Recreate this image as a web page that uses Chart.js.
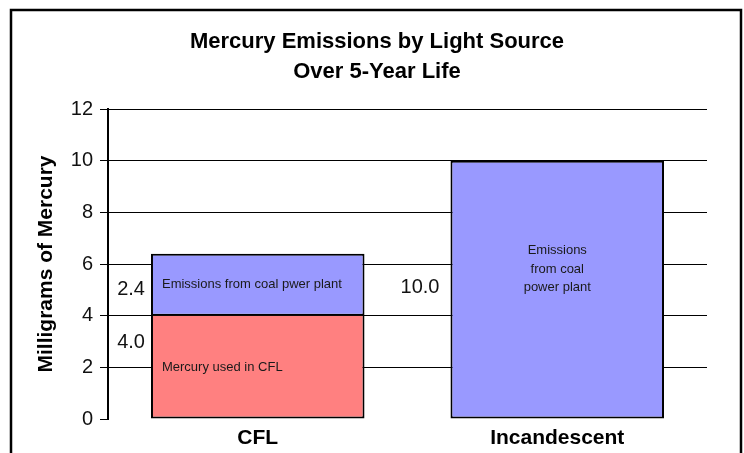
<!DOCTYPE html>
<html lang="en">
<head>
  <meta charset="UTF-8">
  <title>Mercury Emissions by Light Source</title>
  <script src="https://cdn.jsdelivr.net/npm/chart.js"></script>
  <style>
    body { margin: 0; background: #fff; }
  </style>
</head>
<body>
  <canvas id="mercuryChart" width="744" height="453"></canvas>

  <script>
    // data
    const categories = ['CFL', 'Incandescent'];
    const mercuryInBulb = [4.0, null];
    const coalPlant = [2.4, 10.0];
    const seriesNames = ['Mercury used in CFL', 'Emissions from coal power plant'];
    const yTicks = [0, 2, 4, 6, 8, 10, 12];
    const titleLines = ['Mercury Emissions by Light Source', 'Over 5-Year Life'];
    const yTitle = 'Milligrams of Mercury';
    // text written inside each segment, per dataset then per category
    const barNotes = [
      [['Mercury used in CFL'], null],
      [['Emissions from coal pwer plant'], ['Emissions', 'from coal', 'power plant']]
    ];

    const FONT = '"Liberation Sans", Arial, sans-serif';

    // frame + two line title
    const frame = {
      id: 'frame',
      beforeDraw(chart) {
        const c = chart.ctx;
        c.save();
        c.fillStyle = '#fff';
        c.fillRect(0, 0, chart.width, chart.height);
        c.strokeStyle = '#000';
        c.lineWidth = 2.5;
        c.strokeRect(11, 10, 730, chart.height + 10);
        c.fillStyle = '#000';
        c.font = 'bold 22px ' + FONT;
        c.textAlign = 'center';
        c.textBaseline = 'middle';
        titleLines.forEach((t, i) => c.fillText(t, 377, 42 + i * 30));
        c.restore();
      }
    };

    // value labels left of the bars and notes inside them
    const barText = {
      id: 'barText',
      afterDatasetsDraw(chart) {
        const c = chart.ctx;
        c.save();
        chart.data.datasets.forEach((ds, i) => {
          const meta = chart.getDatasetMeta(i);
          ds.data.forEach((v, j) => {
            if (v === null) return;
            const bar = meta.data[j];
            const top = bar.y, bottom = bar.base;
            const left = bar.x - bar.width / 2;
            const h = bottom - top;

            // value label
            const frac = (i === 0 && j === 0) ? 0.26 : (j === 0 ? 0.57 : 0.49);
            c.fillStyle = '#111';
            c.font = '20px ' + FONT;
            c.textAlign = 'right';
            c.textBaseline = 'middle';
            c.fillText(v.toFixed(1), left - (j === 0 ? 6 : 11), top + h * frac);

            // note inside the bar
            const note = barNotes[i][j];
            if (!note) return;
            c.fillStyle = '#1a1a1a';
            c.font = '13px ' + FONT;
            if (note.length === 1) {
              c.textAlign = 'left';
              c.fillText(note[0], left + 11, top + h / 2);
            } else {
              c.textAlign = 'center';
              const mid = top + h * 0.42;
              note.forEach((line, k) => {
                c.fillText(line, bar.x, mid + (k - (note.length - 1) / 2) * 18.5);
              });
            }
          });
        });
        c.restore();
      }
    };

    new Chart(document.getElementById('mercuryChart'), {
      type: 'bar',
      data: {
        labels: categories,
        datasets: [
          {
            label: seriesNames[0],
            data: mercuryInBulb,
            backgroundColor: '#FF8080',
            borderColor: '#000',
            borderWidth: { top: 0, left: 2, right: 2, bottom: 2 },
            borderSkipped: false
          },
          {
            label: seriesNames[1],
            data: coalPlant,
            backgroundColor: '#9999FF',
            borderColor: '#000',
            borderWidth: 2,
            borderSkipped: false
          }
        ]
      },
      options: {
        responsive: false,
        animation: false,
        events: [],
        layout: { padding: { left: 12, right: 37, top: 109, bottom: 0 } },
        datasets: { bar: { categoryPercentage: 1, barPercentage: 0.713 } },
        plugins: {
          legend: { display: false },
          title: { display: false },
          tooltip: { enabled: false }
        },
        scales: {
          x: {
            stacked: true,
            grid: { display: false, drawTicks: false },
            border: { display: false },
            ticks: {
              color: '#000',
              padding: 7,
              font: { family: FONT, size: 21, weight: 'bold' }
            },
            afterFit: s => { s.height = 34; }
          },
          y: {
            stacked: true,
            min: 0,
            max: 12,
            afterBuildTicks: s => { s.ticks = yTicks.map(v => ({ value: v })); },
            grid: {
              color: ctx => ctx.tick && ctx.tick.value === 0 ? 'rgba(0,0,0,0)' : '#000',
              tickColor: '#000',
              lineWidth: 1,
              tickLength: 8
            },
            border: { display: true, color: '#000', width: 2 },
            ticks: {
              color: '#111',
              padding: 7,
              font: { family: FONT, size: 20 }
            },
            title: {
              display: true,
              text: yTitle,
              color: '#000',
              padding: { top: 22 },
              font: { family: FONT, size: 21, weight: 'bold' }
            },
            afterFit: s => { s.width = 96; }
          }
        }
      },
      plugins: [frame, barText]
    });
  </script>
</body>
</html>
